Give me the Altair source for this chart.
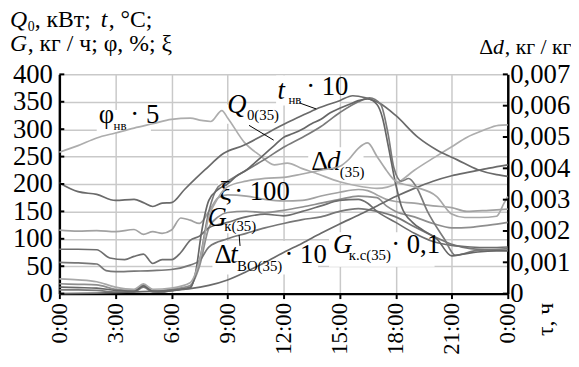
import altair as alt
import pandas as pd

FONT = "Times New Roman, Liberation Serif, DejaVu Serif, serif"
W, H = 454, 222

# ---- data (hours, value on left axis) ----
tnv_t = [0, 1, 2, 3, 4, 4.5, 5, 5.5, 6, 6.7, 7.8, 8.8, 9.9, 10.9, 12.2, 13.2, 13.9, 15.0, 15.7, 16.4, 17.1, 18.0, 19.2, 20.2, 21.3, 22.4, 23.4, 24]
tnv_v = [202, 186, 181, 170, 172, 166, 159, 165, 166, 190, 226, 256, 271, 289, 312, 328, 339, 352, 361, 357, 348, 325, 285, 262, 244, 226, 217, 214]

phi_t = [0, 1, 2, 3, 4, 5, 6, 7, 7.6, 8.1, 8.7, 9.0, 9.9, 10.7, 11.5, 12.2, 13.0, 13.7, 15.0, 16.2, 17.0, 18.1, 19.0, 20.1, 21.0, 21.8, 22.7, 23.5, 24]
phi_v = [258, 270, 284, 293, 302, 310, 318, 320, 316, 314, 334, 321, 276, 253, 235, 238, 228, 220, 204, 195, 192, 202, 225, 249, 268, 285, 298, 307, 308]

q0_t = [0, 1, 2, 3, 3.5, 4, 4.5, 5, 5.5, 6, 6.5, 7, 7.3, 7.6, 8, 8.5, 9, 9.5, 10, 10.5, 11, 11.5, 12, 12.5, 13, 13.5, 14, 14.5, 15, 15.5, 16, 16.5, 17, 17.3, 17.6, 18, 18.3, 18.9, 19.5, 20.2, 21, 21.6, 22.4, 23.4, 24]
q0_v = [12, 11, 10, 6, 5, 4, 14, 4, 3, 6, 8, 10, 40, 110, 170, 190, 200, 215, 225, 240, 255, 270, 285, 292, 300, 310, 318, 330, 338, 345, 352, 355, 345, 320, 270, 200, 160, 130, 115, 100, 69, 72, 76, 78, 78]

gk_t = [0, 1, 2, 3, 4, 4.5, 5, 6, 7, 7.5, 8, 8.5, 9, 10, 11, 12, 13, 14, 15, 16, 16.6, 17.2, 17.6, 17.9, 18.3, 18.7, 19.1, 19.7, 20.6, 21.2, 22.2, 23, 24]
gk_v = [7, 7, 6, 3, 3, 12, 3, 5, 12, 60, 150, 195, 205, 225, 245, 267, 285, 305, 330, 350, 357, 345, 290, 230, 205, 210, 195, 150, 100, 70, 78, 80, 82]

xi_t = [0, 1, 2, 3, 4, 4.5, 5, 5.5, 6, 6.5, 7, 7.5, 8, 8.5, 9, 10, 11, 12, 13, 14, 15, 16, 16.5, 17, 17.5, 18, 19, 20, 21, 21.8, 23, 24]
xi_v = [116, 114, 115, 113, 117, 108, 113, 110, 116, 138, 134, 128, 150, 175, 180, 178, 172, 169, 170, 178, 185, 190, 188, 180, 172, 168, 165, 160, 157, 150, 152, 154]

b_t = [0, 1, 2, 3, 4, 4.5, 5, 6, 7, 7.5, 8, 8.5, 9, 10, 11, 12, 13, 14, 15, 16, 17, 17.5, 18, 19, 20, 21, 22, 23, 24]
b_v = [18, 17, 16, 8, 6, 16, 5, 8, 15, 50, 120, 140, 148, 150, 148, 152, 158, 165, 172, 178, 175, 160, 150, 140, 128, 120, 121, 125, 130]

g_t = [0, 1, 2, 2.7, 3.5, 4, 4.5, 5, 5.5, 6, 6.5, 7, 7.5, 8, 9, 10, 11, 12, 13, 14, 15, 16, 16.5, 17, 18, 19, 20, 21, 22, 23, 24]
g_v = [81, 81, 80, 65, 62, 68, 72, 55, 62, 62, 75, 97, 105, 120, 130, 140, 145, 142, 150, 160, 170, 172, 165, 150, 130, 110, 95, 88, 85, 84, 85]

h_t = [0, 1, 2, 2.5, 3, 4, 5, 6, 7, 7.5, 8, 9, 10, 11, 12, 13, 14, 15, 16, 17, 18, 19, 20, 21, 22, 23, 24]
h_v = [57, 56, 54, 42, 40, 41, 42, 44, 52, 60, 85, 100, 110, 120, 128, 135, 140, 150, 155, 150, 140, 122, 105, 90, 82, 80, 79]

gks_t = [0, 2, 4, 6, 7, 8, 9, 10, 11, 12, 13, 14, 15, 16, 17, 18, 19, 20, 21, 22, 23, 24]
gks_v = [0, 1, 3, 6, 9, 15, 25, 40, 57, 75, 92, 110, 127, 143, 160, 177, 192, 205, 215, 222, 229, 235]

# delta d (right axis, kg/kg)
dd_t = [0, 1, 2, 3, 4, 4.5, 5, 6, 7, 7.5, 8, 8.5, 9, 10, 11, 12, 13, 14, 15, 15.5, 16, 16.5, 17, 17.5, 18, 19, 20.2, 21, 21.7, 22.5, 23.4, 23.8, 24]
dd_v = [0.00047, 0.00044, 0.00038, 0.00021, 0.00014, 0.00031, 0.00014, 0.00018, 0.00035, 0.00105, 0.00245, 0.00306, 0.00341, 0.00359, 0.00368, 0.00371, 0.00382, 0.00394, 0.00406, 0.00429, 0.00464, 0.00481, 0.00438, 0.00394, 0.00359, 0.00341, 0.00310, 0.00254, 0.00243, 0.00243, 0.00247, 0.00289, 0.00310]

left_series = [
    ("phi", phi_t, phi_v, "#adadad"),
    ("tnv", tnv_t, tnv_v, "#6a6a6a"),
    ("xi", xi_t, xi_v, "#a2a2a2"),
    ("b", b_t, b_v, "#8e8e8e"),
    ("h", h_t, h_v, "#777777"),
    ("g", g_t, g_v, "#6e6e6e"),
    ("gk", gk_t, gk_v, "#7a7a7a"),
    ("q0", q0_t, q0_v, "#666666"),
    ("gks", gks_t, gks_v, "#6a6a6a"),
]
rows = []
for name, ts, vs, _ in left_series:
    for t, v in zip(ts, vs):
        rows.append({"t": t, "v": v, "s": name})
lines_df = pd.DataFrame(rows)
dd_df = pd.DataFrame({"t": dd_t, "v": dd_v})

x_ticks = [0, 3, 6, 9, 12, 15, 18, 21, 24]
y_ticks = [0, 50, 100, 150, 200, 250, 300, 350, 400]
r_ticks = [0, 0.001, 0.002, 0.003, 0.004, 0.005, 0.006, 0.007]

xs = alt.Scale(domain=[0, 24], nice=False, zero=False)
ys = alt.Scale(domain=[0, 400], nice=False)
rs = alt.Scale(domain=[0, 0.007], nice=False)

x_axis = alt.Axis(values=x_ticks, labelExpr="(datum.value % 24) + ':00'", labelAngle=270,
                  grid=True, gridColor="#c9c9c9", gridWidth=1.5, labelOverlap=False,
                  domainColor="black", domainWidth=2.5, tickColor="black", tickWidth=2, tickSize=5,
                  labelFont=FONT, labelFontSize=23, labelColor="black", labelPadding=4, title=None)
y_axis = alt.Axis(values=y_ticks, grid=True, gridColor="#c9c9c9", gridWidth=1.5, labelOverlap=False,
                  domainColor="black", domainWidth=2.5, ticks=False, labelBound=False,
                  labelFont=FONT, labelFontSize=27, labelColor="black", labelPadding=7, title=None)
r_axis = alt.Axis(values=r_ticks, orient="right", grid=False, labelOverlap=False,
                  labelExpr="datum.value == 0 ? '0' : replace(format(datum.value, '.3f'), '.', ',')",
                  domainColor="black", domainWidth=2.5, ticks=False, labelBound=False,
                  labelFont=FONT, labelFontSize=27, labelColor="black", labelPadding=2, title=None)


def X(f="t"):
    return alt.X(f + ":Q", scale=xs, axis=x_axis)


def Y(f="v"):
    return alt.Y(f + ":Q", scale=ys, axis=y_axis)


lines = alt.Chart(lines_df).mark_line(strokeWidth=1.7, interpolate="monotone").encode(
    x=X(), y=Y(),
    color=alt.Color("s:N", scale=alt.Scale(domain=[s[0] for s in left_series], range=[s[3] for s in left_series]), legend=None),
    detail="s:N",
)

# white label boxes (data coords)
box_df = pd.DataFrame([
    {"x": 13.32, "x2": 16.28, "y": 267, "y2": 204},
    {"x": 8.19, "x2": 13.85, "y": 96, "y2": 35},
    {"x": 14.43, "x2": 20.08, "y": 112, "y2": 49},
    {"x": 8.5, "x2": 11.9, "y": 202, "y2": 162},
    {"x": 7.8, "x2": 10.4, "y": 162, "y2": 110},
    {"x": 8.9, "x2": 11.4, "y": 345, "y2": 310},
    {"x": 11.6, "x2": 15.0, "y": 398, "y2": 343},
    {"x": 2.0, "x2": 4.9, "y": 335, "y2": 295},
])
boxes = alt.Chart(box_df).mark_rect(color="white").encode(
    x=X("x"), x2="x2:Q", y=Y("y"), y2="y2:Q")

lead_df = pd.DataFrame([
    {"x": 10.15, "x2": 11.47, "y": 307, "y2": 280},
    {"x": 12.84, "x2": 13.74, "y": 348, "y2": 337},
    {"x": 9.62, "x2": 9.67, "y": 107, "y2": 87},
])
leaders = alt.Chart(lead_df).mark_rule(color="black", strokeWidth=1).encode(
    x=X("x"), x2="x2:Q", y=Y("y"), y2="y2:Q")

ann_norm = pd.DataFrame([
    {"x": 2.11, "y": 312, "text": "φ", "size": 27},
    {"x": 2.9, "y": 298, "text": "нв", "size": 13},
    {"x": 3.8, "y": 312, "text": "· 5", "size": 27},
    {"x": 10.04, "y": 316, "text": "0(35)", "size": 15},
    {"x": 12.26, "y": 346, "text": "нв", "size": 13},
    {"x": 13.21, "y": 363, "text": "· 10", "size": 27},
    {"x": 13.48, "y": 226, "text": "Δ", "size": 27},
    {"x": 15.01, "y": 213, "text": "(35)", "size": 15},
    {"x": 8.56, "y": 170, "text": "ξ", "size": 27},
    {"x": 9.36, "y": 170, "text": "· 100", "size": 27},
    {"x": 8.83, "y": 114, "text": "к(35)", "size": 15},
    {"x": 8.3, "y": 55, "text": "Δ", "size": 27},
    {"x": 9.51, "y": 42, "text": "ВО(35)", "size": 15},
    {"x": 12.05, "y": 55, "text": "· 10", "size": 27},
    {"x": 15.49, "y": 62, "text": "к.с(35)", "size": 15},
    {"x": 17.76, "y": 75, "text": "· 0,1", "size": 27},
])
ann_ital = pd.DataFrame([
    {"x": 8.99, "y": 330, "text": "Q", "size": 27},
    {"x": 11.68, "y": 355, "text": "t", "size": 27},
    {"x": 14.32, "y": 226, "text": "d", "size": 27},
    {"x": 7.93, "y": 123, "text": "G", "size": 27},
    {"x": 9.14, "y": 55, "text": "t", "size": 27},
    {"x": 14.64, "y": 75, "text": "G", "size": 27},
])
txt_n = alt.Chart(ann_norm).mark_text(font=FONT, align="left", baseline="alphabetic", color="black").encode(
    x=X("x"), y=Y("y"), text="text:N", size=alt.Size("size:Q", scale=None, legend=None))
txt_i = alt.Chart(ann_ital).mark_text(font=FONT, fontStyle="italic", align="left", baseline="alphabetic", color="black").encode(
    x=X("x"), y=Y("y"), text="text:N", size=alt.Size("size:Q", scale=None, legend=None))

# outer titles (pixel positions relative to plot area)
title_df = pd.DataFrame([
    {"px": -50, "py": -48, "text": "Q", "size": 24, "it": 1},
    {"px": -32, "py": -44, "text": "0", "size": 14, "it": 0},
    {"px": -25, "py": -48, "text": ", кВт;", "size": 24, "it": 0},
    {"px": 42, "py": -48, "text": "t", "size": 24, "it": 1},
    {"px": 50, "py": -48, "text": ", °C;", "size": 24, "it": 0},
    {"px": -50, "py": -24, "text": "G", "size": 24, "it": 1},
    {"px": -32, "py": -24, "text": ", кг / ч; φ, %; ξ", "size": 24, "it": 0},
    {"px": 425, "py": -21, "text": "Δ", "size": 22, "it": 0},
    {"px": 439, "py": -21, "text": "d", "size": 22, "it": 1},
    {"px": 451, "py": -21, "text": ", кг / кг", "size": 22, "it": 0},
])


def title_layer(it, style):
    d = title_df[title_df["it"] == it]
    return alt.Chart(d).mark_text(font=FONT, fontStyle=style, align="left", baseline="alphabetic", color="black").encode(
        x=alt.X("px:Q", scale=None, axis=None), y=alt.Y("py:Q", scale=None, axis=None),
        text="text:N", size=alt.Size("size:Q", scale=None, legend=None))


tau = alt.Chart(pd.DataFrame({"text": ["τ, ч"]})).mark_text(
    font=FONT, fontSize=24, angle=270, align="left", baseline="middle", color="black").encode(
    x=alt.value(493), y=alt.value(265), text="text:N")

yticks_df = pd.DataFrame({"v": y_ticks})
lticks = alt.Chart(yticks_df).mark_rule(color="black", strokeWidth=2).encode(
    x=alt.value(0), x2=alt.value(5), y=Y("v"))

left = alt.layer(boxes, lines, leaders, txt_n, txt_i, lticks)

ddline = alt.Chart(dd_df).mark_line(strokeWidth=1.7, interpolate="monotone", color="#a8a8a8").encode(
    x=X(), y=alt.Y("v:Q", scale=rs, axis=r_axis))
rticks = alt.Chart(pd.DataFrame({"v": r_ticks})).mark_rule(color="black", strokeWidth=2).encode(
    x=alt.value(W - 5), x2=alt.value(W), y=alt.Y("v:Q", scale=rs, axis=r_axis))
right = alt.layer(ddline, rticks)

chart = alt.layer(left, right, title_layer(1, "italic"), title_layer(0, "normal"), tau).resolve_scale(y="independent").properties(
    width=W, height=H,
    autosize=alt.AutoSizeParams(type="none"),
    padding={"left": 52, "top": 65, "right": 64, "bottom": 64},
).configure_view(stroke=None)

chart.save("out.html", embed_options={"renderer": "svg", "actions": False})
